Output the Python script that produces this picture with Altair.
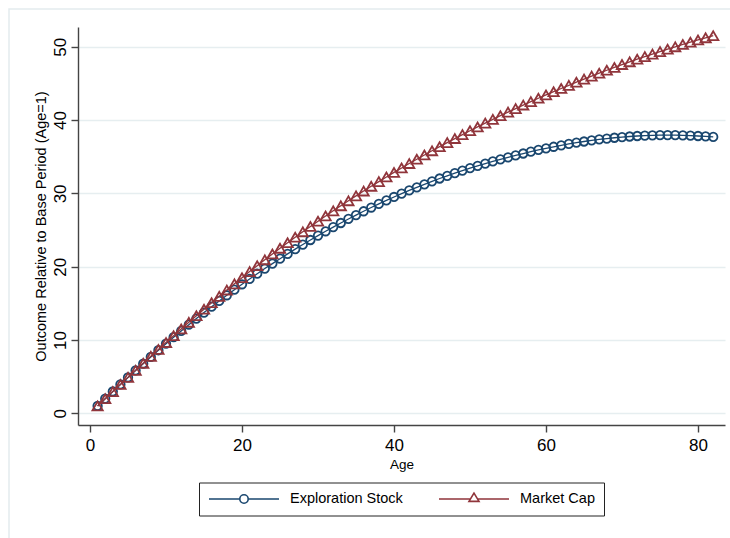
import altair as alt
import pandas as pd

ages = list(range(1, 83))
exploration_stock = [
    1.00, 1.99, 2.97, 3.93, 4.89, 5.84, 6.77, 7.69, 8.60, 9.50,
    10.38, 11.24, 12.09, 12.92, 13.74, 14.54, 15.33, 16.10, 16.86, 17.60,
    18.33, 19.04, 19.74, 20.42, 21.09, 21.75, 22.39, 23.02, 23.64, 24.24,
    24.83, 25.40, 25.96, 26.51, 27.04, 27.56, 28.07, 28.56, 29.04, 29.51,
    29.96, 30.40, 30.83, 31.24, 31.64, 32.03, 32.40, 32.76, 33.11, 33.44,
    33.76, 34.07, 34.36, 34.64, 34.91, 35.18, 35.44, 35.69, 35.93, 36.15,
    36.36, 36.56, 36.75, 36.92, 37.08, 37.23, 37.36, 37.48, 37.59, 37.68,
    37.76, 37.83, 37.88, 37.92, 37.94, 37.95, 37.94, 37.92, 37.88, 37.83,
    37.77, 37.70]
market_cap = [
    1.00, 1.98, 2.96, 3.93, 4.90, 5.86, 6.82, 7.77, 8.71, 9.65,
    10.58, 11.50, 12.41, 13.31, 14.20, 15.08, 15.95, 16.81, 17.66, 18.50,
    19.33, 20.14, 20.94, 21.73, 22.51, 23.27, 24.02, 24.76, 25.49, 26.21,
    26.92, 27.62, 28.31, 28.99, 29.66, 30.32, 30.97, 31.61, 32.24, 32.86,
    33.47, 34.07, 34.66, 35.24, 35.81, 36.37, 36.93, 37.48, 38.02, 38.55,
    39.07, 39.59, 40.10, 40.60, 41.09, 41.57, 42.05, 42.52, 42.98, 43.43,
    43.87, 44.31, 44.74, 45.17, 45.59, 46.00, 46.40, 46.80, 47.19, 47.58,
    47.95, 48.31, 48.66, 49.00, 49.34, 49.67, 50.00, 50.32, 50.63, 50.93,
    51.23, 51.52]

series_names = ["Exploration Stock", "Market Cap"]
series_colors = ["#1a476f", "#90353b"]
x_ticks = [0, 20, 40, 60, 80]
y_ticks = [0, 10, 20, 30, 40, 50]

df = pd.DataFrame({
    "age": ages * 2,
    "value": exploration_stock + market_cap,
    "series": [series_names[0]] * len(ages) + [series_names[1]] * len(ages),
})

FONT = "Liberation Sans"
xscale = alt.Scale(domain=[-1.58, 83.55], nice=False, zero=False)
yscale = alt.Scale(domain=[-1.6, 52.7], nice=False, zero=False)

xaxis = alt.Axis(values=x_ticks, title="Age", grid=False, labelFontSize=17,
                 labelFont=FONT, labelColor="black", labelBaseline="alphabetic",
                 labelPadding=18.5, tickSize=7, tickColor="#444444", tickWidth=1.4,
                 domainColor="#444444", domainWidth=1.4, titleFont=FONT,
                 titleFontSize=13.5, titleFontWeight="normal", titleColor="black",
                 titleX=323.5, titleY=43, titleBaseline="alphabetic", titleAlign="center")
yaxis = alt.Axis(values=y_ticks, title="Outcome Relative to Base Period (Age=1)",
                 grid=True, gridColor="#e6eef0", gridWidth=1.6, labelFontSize=17,
                 labelFont=FONT, labelColor="black", labelAngle=270, labelAlign="center",
                 labelBaseline="alphabetic", labelPadding=6, tickSize=7,
                 tickColor="#444444", tickWidth=1.4, domainColor="#444444",
                 domainWidth=1.4, titleFont=FONT, titleFontSize=14.5,
                 titleFontWeight="normal", titleColor="black", titleAngle=270,
                 titleX=-33, titleY=199, titleAlign="center", titleBaseline="alphabetic")

base = alt.Chart(df)
x_enc = alt.X("age:Q", scale=xscale, axis=xaxis)
y_enc = alt.Y("value:Q", scale=yscale, axis=yaxis)

frame = alt.Chart(pd.DataFrame({"a": [0]})).mark_rect(
    fill=None, stroke="#e3ebee", strokeWidth=1.5
).encode(x=alt.value(-69), x2=alt.value(662), y=alt.value(-18), y2=alt.value(521))

layers = [frame]
shapes = ["circle", "triangle-up"]
sizes = [72, 106]
for name, color, shp, sz in zip(series_names, series_colors, shapes, sizes):
    sub = base.transform_filter(alt.datum.series == name)
    layers.append(sub.mark_line(color=color, strokeWidth=1.3).encode(x=x_enc, y=y_enc))
    layers.append(sub.mark_point(shape=shp, color=color, filled=False, size=sz,
                                 strokeWidth=1.8, opacity=1).encode(x=x_enc, y=y_enc))

circle_path = ("M-1,0H-0.12M0.12,0H1M-0.12,0A0.12,0.12,0,1,0,0.12,0"
               "A0.12,0.12,0,1,0,-0.12,0")
tri_path = "M-1,0H-0.103M0.103,0H1M0,-0.17L0.143,0.067L-0.143,0.067Z"

legend_props = dict(orient="none", legendX=121, legendY=455.5,
                    direction="horizontal", title=None,
                    strokeColor="#222222", padding=9,
                    symbolSize=4900, symbolStrokeWidth=1.6,
                    clipHeight=15, labelFont=FONT, labelFontSize=14.5,
                    labelColor="black", labelOffset=10,
                    columnPadding=35, symbolOpacity=1)

legend_df = pd.DataFrame({"age": [-50, -50], "value": [-50, -50], "series": series_names})
legend_layer = alt.Chart(legend_df).mark_point(
    filled=False, clip=True, opacity=1, size=4900, strokeWidth=1.6
).encode(
    x=alt.X("age:Q", scale=xscale),
    y=alt.Y("value:Q", scale=yscale),
    color=alt.Color("series:N", scale=alt.Scale(domain=series_names, range=series_colors),
                    legend=alt.Legend(**legend_props)),
    shape=alt.Shape("series:N", scale=alt.Scale(domain=series_names,
                                                range=[circle_path, tri_path]),
                    legend=alt.Legend(**legend_props)),
)
layers.append(legend_layer)

chart = alt.layer(*layers).properties(
    width=647, height=398,
    autosize=alt.AutoSizeParams(type="none"),
    padding={"left": 78, "top": 27, "right": 5, "bottom": 113},
    background="white",
).configure_view(stroke=None)

chart.save("out.html", embed_options={"renderer": "svg", "actions": False})
